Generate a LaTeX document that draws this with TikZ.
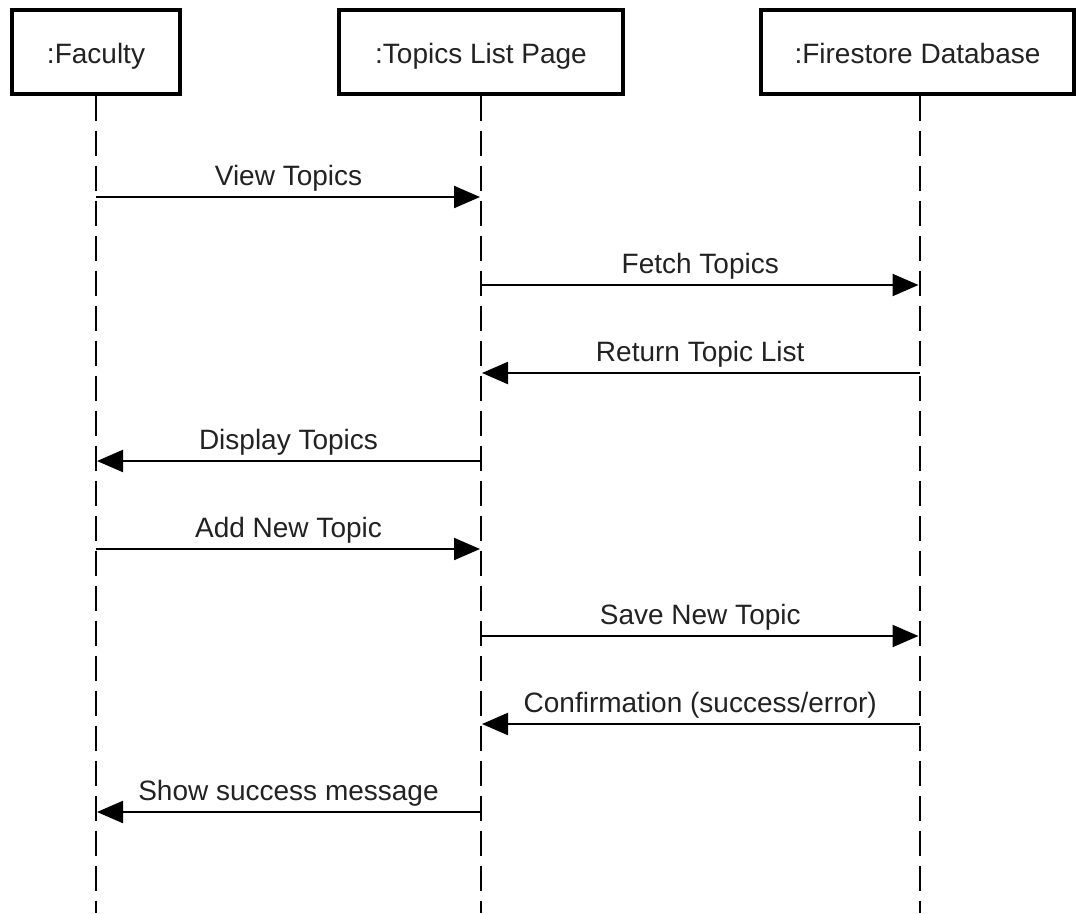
\documentclass[tikz,border=0pt]{standalone}
\usepackage{fontspec}
\setmainfont{Liberation Sans}
\usetikzlibrary{arrows.meta}
\definecolor{txt}{HTML}{222222}
\tikzset{
  participant/.style={draw=black, line width=4pt, fill=white, minimum height=84pt,
    inner sep=0pt, text height=26pt, text depth=2pt, text=txt,
    font=\fontsize{28}{33}\selectfont},
  lifeline/.style={draw=black, line width=2pt, dash pattern=on 25pt off 10pt},
  msg/.style={draw=black, line width=2.2pt, -{Triangle[length=26pt,width=22pt]}, shorten >=1pt},
  msglabel/.style={text=txt, font=\fontsize{28}{33}\selectfont, anchor=base, inner sep=0pt}
}
\begin{document}
\begin{tikzpicture}[x=1pt,y=-1pt]
\useasboundingbox (0,0) rectangle (1076,913);

% participants
\node[participant, minimum width=168pt] (fac) at (96,51.5) {:Faculty};
\node[participant, minimum width=284pt] (top) at (481,51.5) {:Topics List Page};
\node[participant, minimum width=313pt] (fire) at (917.5,51.5) {:Firestore Database};

% lifelines
\coordinate (bottom) at (0,913);
\coordinate (fl) at ([xshift=2pt]fire.south);
\draw[lifeline] (fac.south) -- (fac.south |- bottom);
\draw[lifeline] (top.south) -- (top.south |- bottom);
\draw[lifeline] (fl) -- (fl |- bottom);

% message rows
\foreach \n/\y in {1/197,2/285,3/373,4/461,5/549,6/636,7/724,8/812}
  \coordinate (r\n) at (0,\y);

\draw[msg] (fac |- r1) -- node[msglabel, yshift=12pt] {View Topics} (top |- r1);
\draw[msg] (top |- r2) -- node[msglabel, yshift=12pt] {Fetch Topics} (fl |- r2);
\draw[msg] (fl |- r3) -- node[msglabel, yshift=12pt] {Return Topic List} (top |- r3);
\draw[msg] (top |- r4) -- node[msglabel, yshift=12pt] {Display Topics} (fac |- r4);
\draw[msg] (fac |- r5) -- node[msglabel, yshift=12pt] {Add New Topic} (top |- r5);
\draw[msg] (top |- r6) -- node[msglabel, yshift=12pt] {Save New Topic} (fl |- r6);
\draw[msg] (fl |- r7) -- node[msglabel, yshift=12pt] {Confirmation (success/error)} (top |- r7);
\draw[msg] (top |- r8) -- node[msglabel, yshift=12pt] {Show success message} (fac |- r8);
\end{tikzpicture}
\end{document}
